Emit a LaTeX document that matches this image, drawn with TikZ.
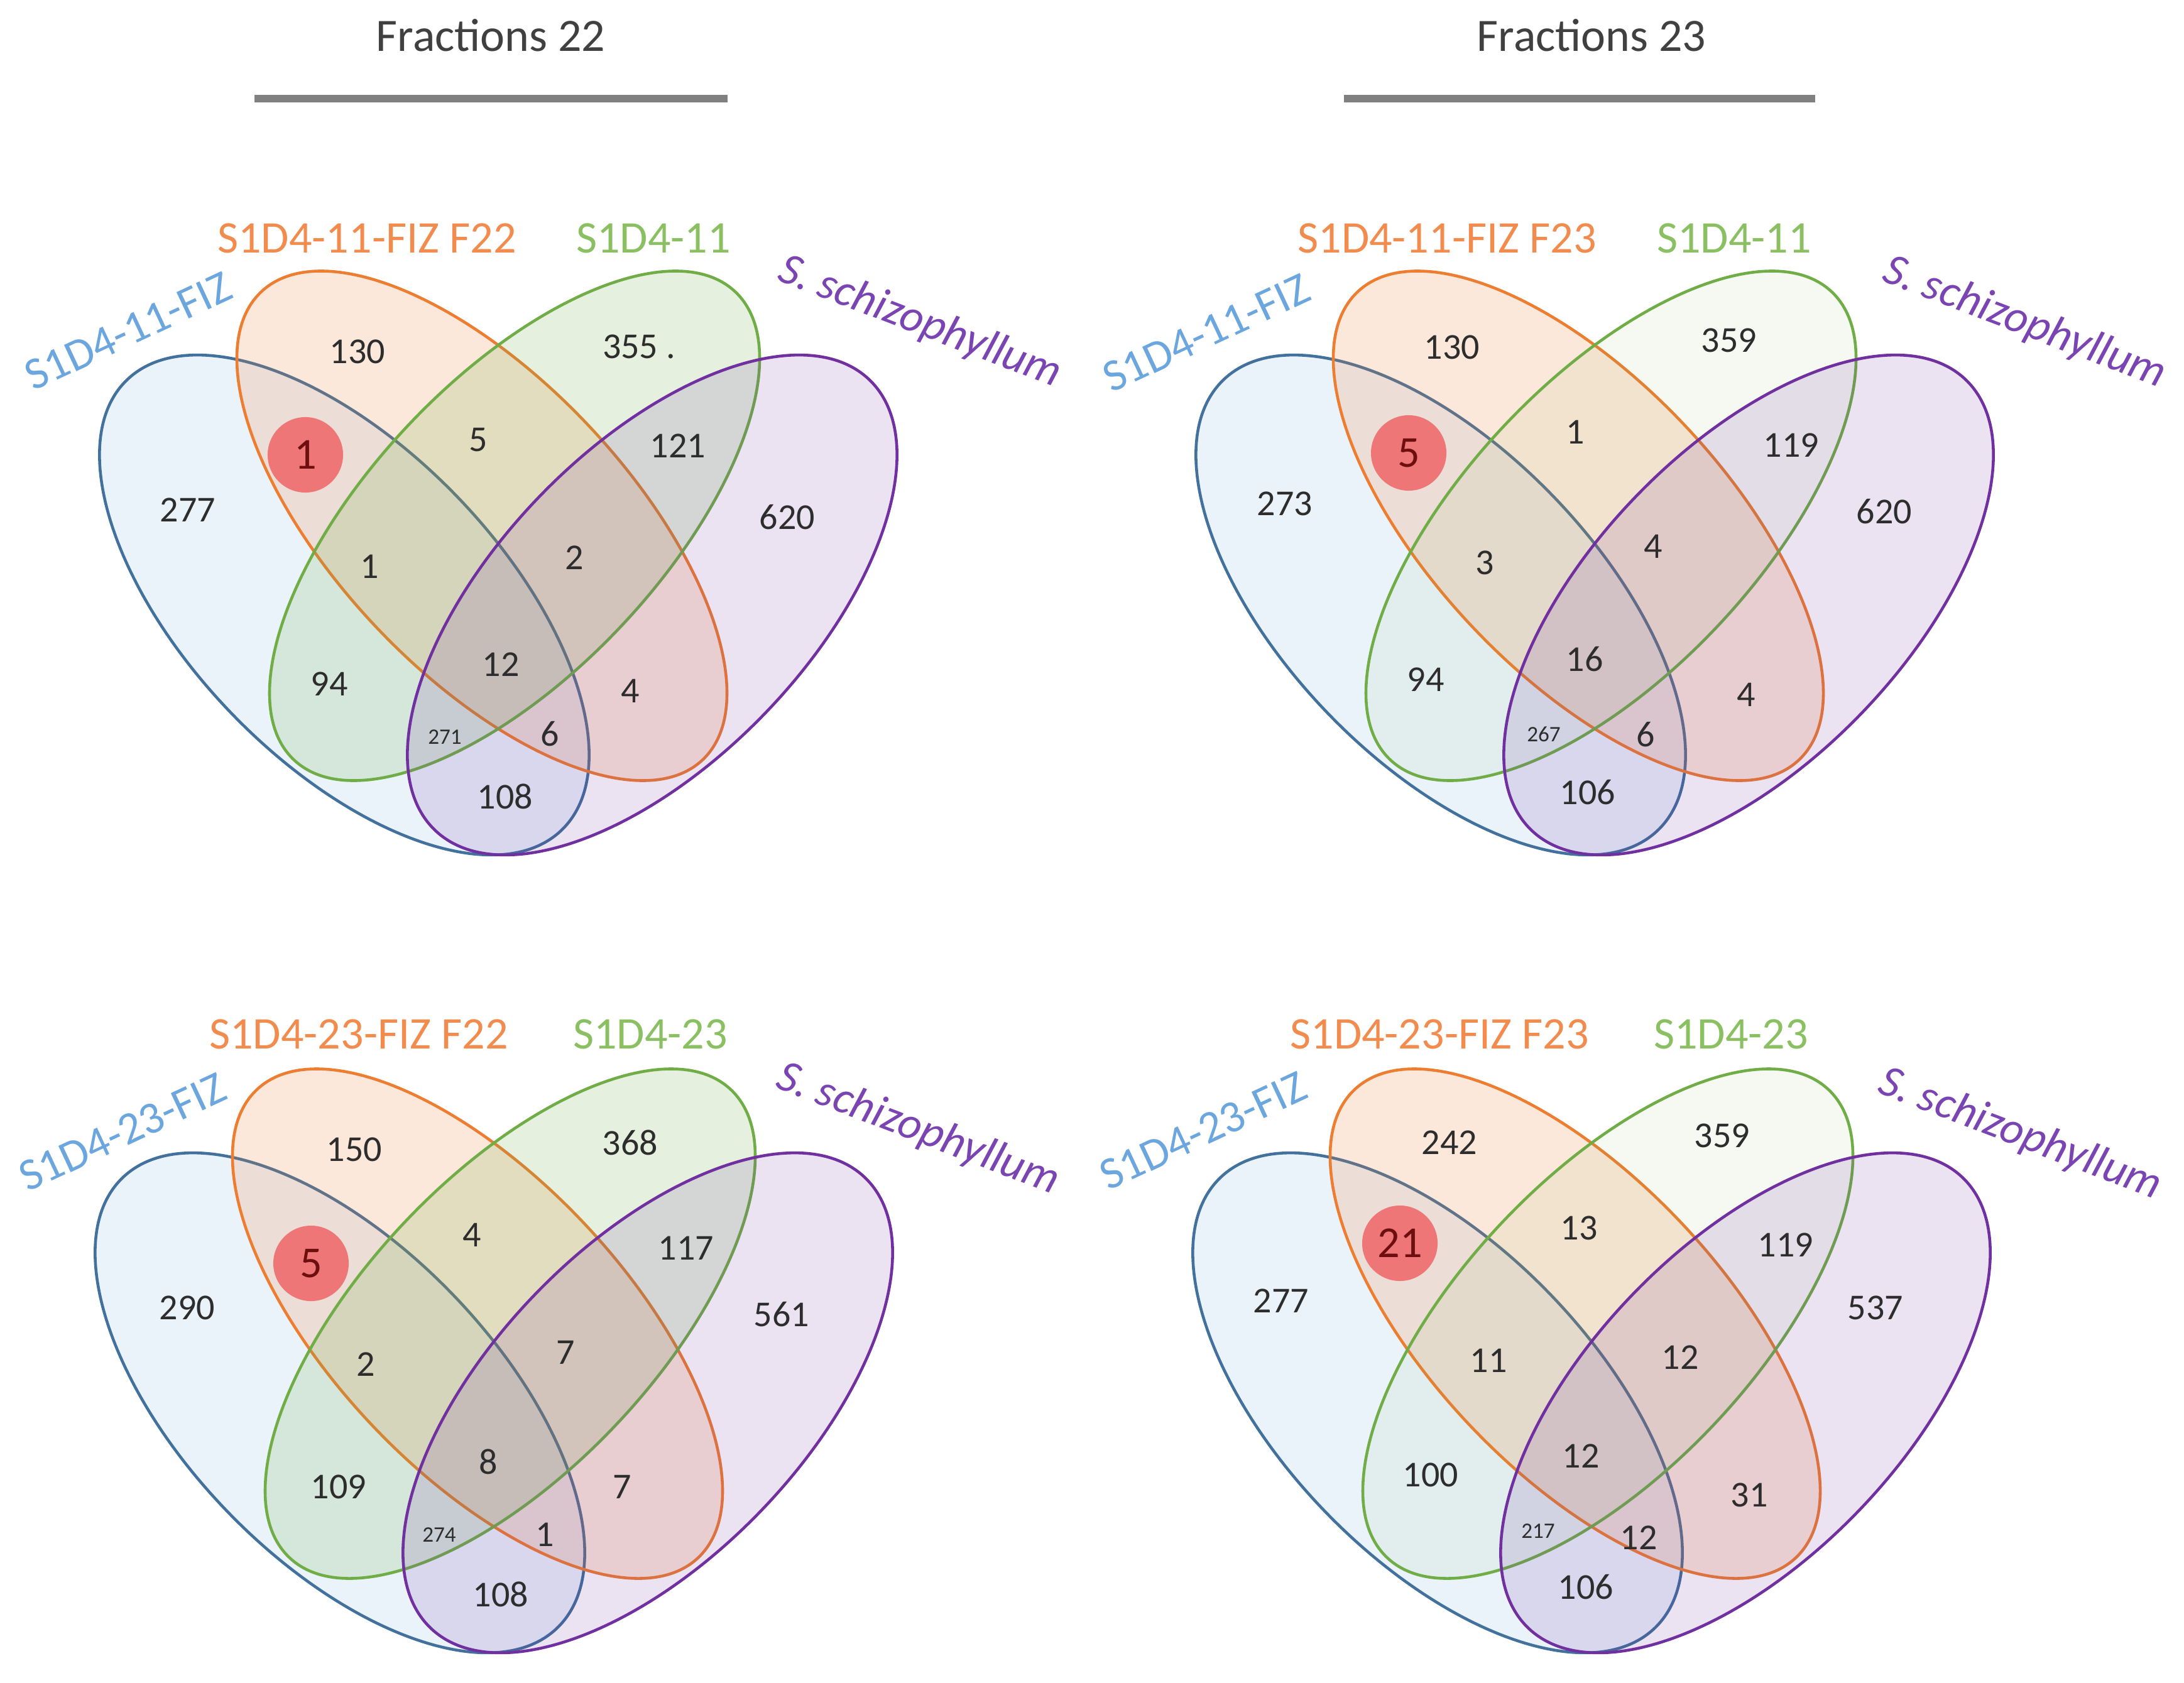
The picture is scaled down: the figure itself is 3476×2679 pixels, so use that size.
\documentclass[tikz,border=0pt]{standalone}
\usepackage{fontspec}
\setmainfont{Carlito}
\usepackage{tikz}
\usetikzlibrary{positioning}
\definecolor{setblue}{RGB}{65,113,156}
\definecolor{fillblue}{RGB}{91,155,213}
\definecolor{labblue}{RGB}{108,166,222}
\definecolor{setorange}{RGB}{237,125,49}
\definecolor{laborange}{RGB}{241,140,78}
\definecolor{setgreen}{RGB}{112,173,71}
\definecolor{labgreen}{RGB}{138,192,98}
\definecolor{setpurple}{RGB}{112,48,160}
\definecolor{labpurple}{RGB}{122,68,178}
\definecolor{numgray}{RGB}{45,45,45}
\definecolor{titlegray}{RGB}{64,64,64}
\definecolor{rulegray}{RGB}{128,128,128}
\definecolor{hitred}{RGB}{238,118,118}
\definecolor{hitdark}{RGB}{110,15,15}
\tikzset{
  blueset/.style={draw=setblue, fill=fillblue, fill opacity=0.12, line width=1.3pt},
  orangeset/.style={draw=setorange, fill=setorange, fill opacity=0.18, line width=1.3pt},
  greenset/.style={draw=setgreen, fill=setgreen, line width=1.3pt},
  purpleset/.style={draw=setpurple, fill=setpurple, fill opacity=0.14, line width=1.3pt},
  num/.style={text=numgray, inner sep=0pt, font=\fontsize{16.5}{18}\selectfont},
  tiny/.style={text=numgray, inner sep=0pt, font=\fontsize{10}{12}\selectfont},
  hit/.style={circle, fill=hitred, minimum size=1.2cm, inner sep=0pt, text=hitdark, font=\fontsize{20}{24}\selectfont},
  title/.style={text=titlegray, inner sep=0pt, font=\fontsize{21}{24}\selectfont},
  rule/.style={draw=rulegray, line width=3.4pt},
  labo/.style={text=laborange, inner sep=0pt, font=\fontsize{20.5}{24}\selectfont},
  labg/.style={text=labgreen, inner sep=0pt, font=\fontsize{20.5}{24}\selectfont},
  labb/.style={text=labblue, inner sep=0pt, rotate=25, font=\fontsize{20.5}{24}\selectfont},
  labp/.style={text=labpurple, inner sep=0pt, rotate=-21, font=\fontsize{20.5}{24}\selectfont\itshape},
}
% the four sets of one panel, #1 = opacity of the green fill
\newcommand{\fourellipses}[1]{%
  \filldraw[blueset, rotate around={-46:(548,963)}] (548,963) ellipse [x radius=498, y radius=249];
  \filldraw[orangeset, rotate around={-46.7:(767,837)}] (767,837) ellipse [x radius=512, y radius=233];
  \filldraw[greenset, fill opacity=#1, rotate around={46.7:(819,837)}] (819,837) ellipse [x radius=512, y radius=233];
  \filldraw[purpleset, rotate around={46:(1038,963)}] (1038,963) ellipse [x radius=498, y radius=249];
}
\begin{document}
\begin{tikzpicture}[x=0.01cm, y=-0.01cm]
  \useasboundingbox (0,0) rectangle (3476,2679);

  %titles
  \node[title] (f22) at (781,56) {Fractions 22};
  \node[title] (f23) at (2533,56) {Fractions 23};
  \coordinate (r22a) at (405,157);
  \coordinate (r22b) at (1158,157);
  \coordinate (r23a) at (2139,157);
  \coordinate (r23b) at (2889,157);
  \draw[rule] (r22a) -- (r22b);
  \draw[rule] (r23a) -- (r23b);

  %sets
  \begin{scope}
    \fourellipses{0.18}
  \end{scope}
  \begin{scope}[shift={(1745,0)}]
    \fourellipses{0.07}
  \end{scope}
  \begin{scope}[shift={(-7,1270)}]
    \fourellipses{0.18}
  \end{scope}
  \begin{scope}[shift={(1740,1270)}]
    \fourellipses{0.07}
  \end{scope}

  %S1D4-11, F22
  \node[labo] (ao) at (584,379) {S1D4-11-FIZ F22};
  \node[labg] (ag) at (1040,379) {S1D4-11};
  \node[labb] (ab) at (204,527) {S1D4-11-FIZ};
  \node[labp] (ap) at (1464,513) {S. schizophyllum};
  \node[num] (a1) at (569,560) {130};
  \node[num] (a2) at (1017,552) {355 .};
  \node[hit] (a3) at (486,724) {1};
  \node[num] (a4) at (761,700) {5};
  \node[num] (a5) at (1079,710) {121};
  \node[num] (a6) at (299,812) {277};
  \node[num] (a7) at (1253,823) {620};
  \node[num] (a8) at (588,902) {1};
  \node[num] (a9) at (914,888) {2};
  \node[num] (a10) at (797,1058) {12};
  \node[num] (a11) at (524,1089) {94};
  \node[num] (a12) at (1003,1100) {4};
  \node[tiny] (a13) at (708,1173) {271};
  \node[num] (a14) at (875,1168) {6};
  \node[num] (a15) at (804,1268) {108};

  %S1D4-11, F23
  \node[labo] (bo) at (2303,379) {S1D4-11-FIZ F23};
  \node[labg] (bg) at (2760,379) {S1D4-11};
  \node[labb] (bb) at (1920,530) {S1D4-11-FIZ};
  \node[labp] (bp) at (3222,514) {S. schizophyllum};
  \node[num] (b1) at (2311,553) {130};
  \node[num] (b2) at (2752,542) {359};
  \node[hit] (b3) at (2242,721) {5};
  \node[num] (b4) at (2507,688) {1};
  \node[num] (b5) at (2851,709) {119};
  \node[num] (b6) at (2045,802) {273};
  \node[num] (b7) at (2999,814) {620};
  \node[num] (b8) at (2363,896) {3};
  \node[num] (b9) at (2631,870) {4};
  \node[num] (b10) at (2522,1049) {16};
  \node[num] (b11) at (2269,1082) {94};
  \node[num] (b12) at (2779,1106) {4};
  \node[tiny] (b13) at (2457,1169) {267};
  \node[num] (b14) at (2619,1169) {6};
  \node[num] (b15) at (2527,1261) {106};

  %S1D4-23, F22
  \node[labo] (co) at (571,1646) {S1D4-23-FIZ F22};
  \node[labg] (cg) at (1035,1646) {S1D4-23};
  \node[labb] (cb) at (195,1802) {S1D4-23-FIZ};
  \node[labp] (cp) at (1461,1798) {S. schizophyllum};
  \node[num] (c1) at (564,1830) {150};
  \node[num] (c2) at (1003,1819) {368};
  \node[hit] (c3) at (495,2011) {5};
  \node[num] (c4) at (751,1966) {4};
  \node[num] (c5) at (1092,1987) {117};
  \node[num] (c6) at (298,2082) {290};
  \node[num] (c7) at (1244,2092) {561};
  \node[num] (c8) at (582,2172) {2};
  \node[num] (c9) at (900,2153) {7};
  \node[num] (c10) at (777,2327) {8};
  \node[num] (c11) at (539,2367) {109};
  \node[num] (c12) at (990,2367) {7};
  \node[tiny] (c13) at (699,2443) {274};
  \node[num] (c14) at (867,2443) {1};
  \node[num] (c15) at (797,2538) {108};

  %S1D4-23, F23
  \node[labo] (do) at (2291,1646) {S1D4-23-FIZ F23};
  \node[labg] (dg) at (2755,1646) {S1D4-23};
  \node[labb] (db) at (1915,1800) {S1D4-23-FIZ};
  \node[labp] (dp) at (3215,1806) {S. schizophyllum};
  \node[num] (d1) at (2307,1819) {242};
  \node[num] (d2) at (2741,1808) {359};
  \node[hit] (d3) at (2228,1979) {21};
  \node[num] (d4) at (2513,1955) {13};
  \node[num] (d5) at (2842,1982) {119};
  \node[num] (d6) at (2039,2071) {277};
  \node[num] (d7) at (2985,2082) {537};
  \node[num] (d8) at (2369,2166) {11};
  \node[num] (d9) at (2674,2161) {12};
  \node[num] (d10) at (2516,2318) {12};
  \node[num] (d11) at (2277,2348) {100};
  \node[num] (d12) at (2784,2380) {31};
  \node[tiny] (d13) at (2448,2437) {217};
  \node[num] (d14) at (2608,2448) {12};
  \node[num] (d15) at (2524,2526) {106};
\end{tikzpicture}
\end{document}
